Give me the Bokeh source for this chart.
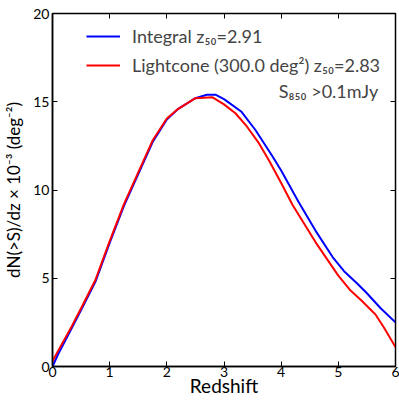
from bokeh.plotting import figure
from bokeh.models import Range1d, LinearAxis, Legend, LegendItem, Label, FixedTicker
from bokeh.embed import file_html
from bokeh.resources import INLINE

# Integral (blue)
z_int = [0.0, 0.1, 0.34, 0.5, 0.75, 1.0, 1.25, 1.5, 1.75, 2.0, 2.2, 2.5, 2.7, 2.85,
         3.0, 3.3, 3.55, 3.85, 4.0, 4.3, 4.6, 4.9, 5.1, 5.33, 5.5, 5.74, 6.0]
n_int = [0.0, 0.7, 2.2, 3.2, 4.8, 7.0, 9.1, 10.9, 12.7, 14.0, 14.6, 15.2, 15.4, 15.4,
         15.15, 14.45, 13.4, 11.9, 11.1, 9.35, 7.7, 6.2, 5.4, 4.7, 4.15, 3.3, 2.5]

# Lightcone (red)
z_lc = [0.0, 0.1, 0.34, 0.5, 0.75, 1.0, 1.25, 1.5, 1.75, 2.0, 2.2, 2.5, 2.8,
        3.0, 3.2, 3.4, 3.6, 3.8, 4.0, 4.2, 4.4, 4.6, 4.8, 5.0, 5.2, 5.4, 5.65, 5.8, 6.0]
n_lc = [0.3, 0.9, 2.3, 3.3, 4.9, 7.1, 9.2, 11.0, 12.8, 14.05, 14.6, 15.2, 15.25,
        14.85, 14.35, 13.6, 12.7, 11.6, 10.4, 9.15, 8.1, 7.05, 6.1, 5.15, 4.35, 3.75, 2.95, 2.2, 1.1]

x_ticks = [0, 1, 2, 3, 4, 5, 6]
y_ticks = [0, 5, 10, 15, 20]

FONT = "Lato"

p = figure(width=399, height=400, output_backend="svg", toolbar_location=None,
           x_range=Range1d(0, 6), y_range=Range1d(0, 20),
           min_border_left=52, min_border_right=4, min_border_top=13, min_border_bottom=34)
p.grid.visible = False
p.outline_line_color = "black"
p.outline_line_width = 1.5

for ax in [p.xaxis[0], p.yaxis[0]]:
    ax.major_tick_in = 5
    ax.major_tick_out = 0
    ax.minor_tick_line_color = None
    ax.axis_line_width = 1.5
    ax.major_label_text_font = FONT
    ax.major_label_text_font_size = "14px"
    ax.major_label_text_color = "black"
    ax.axis_label_text_font = FONT
    ax.axis_label_text_font_style = "normal"
    ax.axis_label_text_color = "black"
p.xaxis[0].ticker = FixedTicker(ticks=x_ticks)
p.yaxis[0].ticker = FixedTicker(ticks=y_ticks)
p.xaxis[0].axis_label = "Redshift"
p.yaxis[0].axis_label = "dN(>S)/dz × 10⁻³ (deg⁻²)"
p.xaxis[0].axis_label_text_font_size = "19px"
p.yaxis[0].axis_label_text_font_size = "17px"
p.xaxis[0].major_label_standoff = 0
p.yaxis[0].major_label_standoff = 3
p.xaxis[0].axis_label_standoff = -6
p.yaxis[0].axis_label_standoff = 6

top = LinearAxis(ticker=FixedTicker(ticks=x_ticks),
                 major_label_overrides={t: "" for t in x_ticks},
                 major_tick_in=5, major_tick_out=0, minor_tick_line_color=None,
                 major_label_standoff=0)
right = LinearAxis(ticker=FixedTicker(ticks=y_ticks),
                   major_label_overrides={t: "" for t in y_ticks},
                   major_tick_in=5, major_tick_out=0, minor_tick_line_color=None,
                   major_label_standoff=0)
p.add_layout(top, "above")
p.add_layout(right, "right")

r1 = p.line(z_int, n_int, line_color="blue", line_width=2)
r2 = p.line(z_lc, n_lc, line_color="red", line_width=2)

legend = Legend(items=[
    LegendItem(label="Integral z₅₀=2.91", renderers=[r1]),
    LegendItem(label="Lightcone (300.0 deg²) z₅₀=2.83", renderers=[r2]),
], location=(34, 290))
legend.border_line_color = None
legend.background_fill_alpha = 0
legend.label_text_font = FONT
legend.label_text_font_size = "18px"
legend.glyph_width = 34
legend.glyph_height = 20
legend.label_height = 20
legend.label_standoff = 12
legend.spacing = 7
legend.padding = 0
legend.margin = 0
p.add_layout(legend)

p.add_layout(Label(x=5.7, y=15.6, text="S₈₅₀ >0.1mJy", text_font=FONT,
                   text_font_size="18px", text_align="right", text_baseline="middle"))

open("out.html", "w").write(file_html(p, INLINE))
